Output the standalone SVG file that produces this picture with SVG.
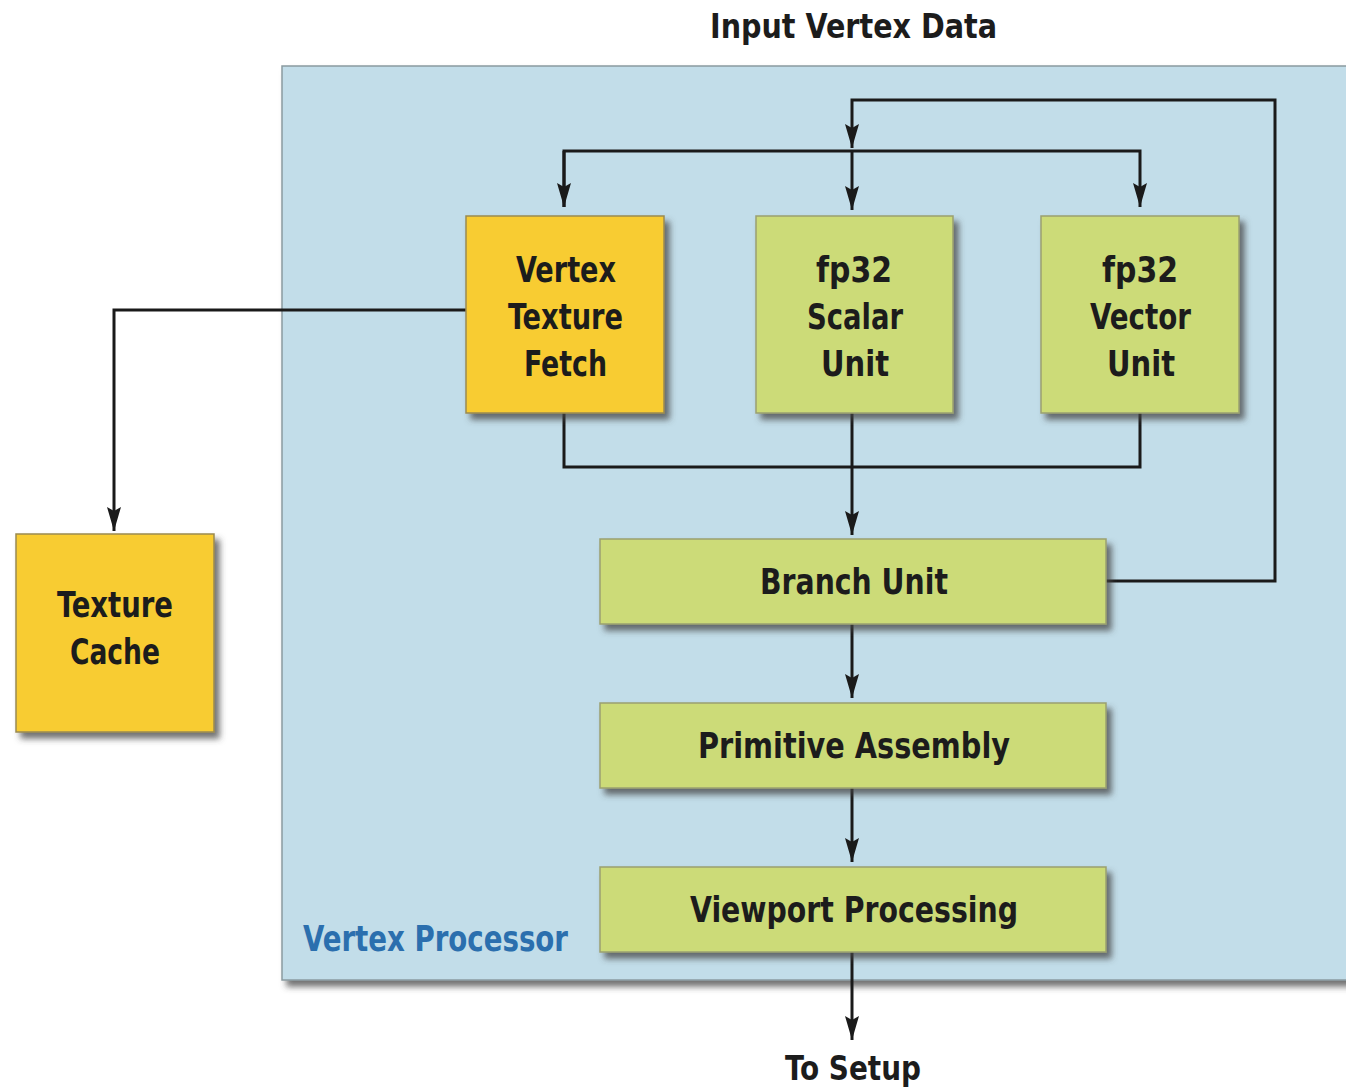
<svg xmlns="http://www.w3.org/2000/svg" width="1346" height="1087" viewBox="0 0 1346 1087">
<defs>
<filter id="sh" x="-10%" y="-10%" width="130%" height="130%">
<feDropShadow dx="5" dy="6" stdDeviation="3" flood-color="#444" flood-opacity="0.75"/>
</filter>
<marker id="ah" viewBox="0 0 24 16" refX="24" refY="8" markerWidth="24" markerHeight="16" markerUnits="userSpaceOnUse" orient="auto">
<path d="M0,1 L24,8 L0,15 L4,8 Z" fill="#1a1a1a"/>
</marker>
</defs>
<style>
.t{font-family:"DejaVu Sans Condensed","DejaVu Sans",sans-serif;font-stretch:condensed;font-weight:bold;fill:#1c1c1c;text-anchor:middle}
.bt{font-size:36px}
.yel{fill:#f8cc33;stroke:#9a8a50;stroke-width:1.5}
.grn{fill:#ccdb78;stroke:#9aa070;stroke-width:1.5}
.c{fill:none;stroke:#1a1a1a;stroke-width:3}
</style>
<rect width="1346" height="1087" fill="#ffffff"/>
<g id="panel">
<rect x="282" y="66" width="1070" height="914" fill="#c2dde9" stroke="#8a9aa0" stroke-width="1.5" filter="url(#sh)"/>
<text class="t" x="435.5" y="951" textLength="265" lengthAdjust="spacingAndGlyphs" style="font-size:35px;fill:#2b6fae">Vertex Processor</text>
</g>
<text class="t" x="853.5" y="38" textLength="287" lengthAdjust="spacingAndGlyphs" style="font-size:34px">Input Vertex Data</text>
<text class="t" x="853" y="1080" textLength="136" lengthAdjust="spacingAndGlyphs" style="font-size:34px">To Setup</text>
<g id="connectors">
<path class="c" d="M1106,581 H1275 V100 H852 V148" marker-end="url(#ah)"/>
<path class="c" d="M564,207 V151 H1140 V207" marker-end="url(#ah)"/>
<path class="c" d="M564,151 V207" marker-end="url(#ah)"/>
<path class="c" d="M852,150 V210" marker-end="url(#ah)"/>
<path class="c" d="M466,310 H114 V531" marker-end="url(#ah)"/>
<path class="c" d="M564,413 V467 H1140 V413"/>
<path class="c" d="M852,413 V535" marker-end="url(#ah)"/>
<path class="c" d="M852,624 V698" marker-end="url(#ah)"/>
<path class="c" d="M852,788 V862" marker-end="url(#ah)"/>
<path class="c" d="M852,952 V1040" marker-end="url(#ah)"/>
</g>
<g id="vtf">
<rect class="yel" x="466" y="216" width="198" height="197" filter="url(#sh)"/>
<text class="t bt" x="566" y="282" textLength="100" lengthAdjust="spacingAndGlyphs">Vertex</text>
<text class="t bt" x="565.5" y="329" textLength="115" lengthAdjust="spacingAndGlyphs">Texture</text>
<text class="t bt" x="565.5" y="376" textLength="83" lengthAdjust="spacingAndGlyphs">Fetch</text>
</g>
<g id="scalar">
<rect class="grn" x="756" y="216" width="197" height="197" filter="url(#sh)"/>
<text class="t bt" x="854" y="282" textLength="76" lengthAdjust="spacingAndGlyphs">fp32</text>
<text class="t bt" x="855" y="329" textLength="96" lengthAdjust="spacingAndGlyphs">Scalar</text>
<text class="t bt" x="855" y="376" textLength="68" lengthAdjust="spacingAndGlyphs">Unit</text>
</g>
<g id="vector">
<rect class="grn" x="1041" y="216" width="198" height="197" filter="url(#sh)"/>
<text class="t bt" x="1140" y="282" textLength="76" lengthAdjust="spacingAndGlyphs">fp32</text>
<text class="t bt" x="1140.5" y="329" textLength="101" lengthAdjust="spacingAndGlyphs">Vector</text>
<text class="t bt" x="1141" y="376" textLength="68" lengthAdjust="spacingAndGlyphs">Unit</text>
</g>
<g id="texcache">
<rect class="yel" x="16" y="534" width="198" height="198" filter="url(#sh)"/>
<text class="t bt" x="115" y="617" textLength="116" lengthAdjust="spacingAndGlyphs">Texture</text>
<text class="t bt" x="115" y="664" textLength="90" lengthAdjust="spacingAndGlyphs">Cache</text>
</g>
<g id="branch">
<rect class="grn" x="600" y="539" width="506" height="85" filter="url(#sh)"/>
<text class="t bt" x="854" y="594" textLength="188" lengthAdjust="spacingAndGlyphs">Branch Unit</text>
</g>
<g id="primitive">
<rect class="grn" x="600" y="703" width="506" height="85" filter="url(#sh)"/>
<text class="t bt" x="854" y="758" textLength="312" lengthAdjust="spacingAndGlyphs">Primitive Assembly</text>
</g>
<g id="viewport">
<rect class="grn" x="600" y="867" width="506" height="85" filter="url(#sh)"/>
<text class="t bt" x="854" y="922" textLength="328" lengthAdjust="spacingAndGlyphs">Viewport Processing</text>
</g>
</svg>
